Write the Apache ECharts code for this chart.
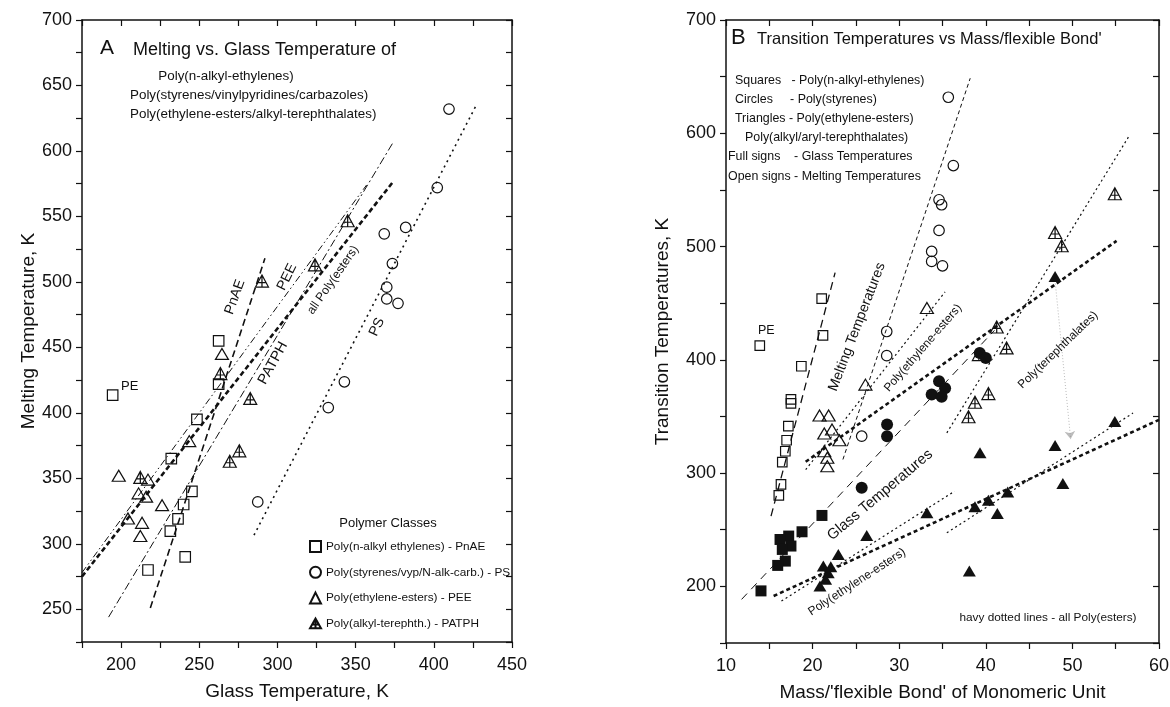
<!DOCTYPE html>
<html>
<head>
<meta charset="utf-8">
<script src="https://cdn.jsdelivr.net/npm/echarts@6/dist/echarts.min.js"></script>
<style>
  html, body { margin: 0; background: #fff; }
  #chart { width: 1170px; height: 707px; }
</style>
</head>
<body>
<div id="chart"></div>
<script>
// ---- panel A: Tm vs Tg (K) ----
const pnaeA  = [[262.4,455],[262.4,422],[194.6,413.5],[248.5,395],[232.1,365],[245.3,340],[240,330],[236.4,319],[231.5,309.6],[241,290],[217.2,280]];
const psA    = [[409.7,632],[402.2,572],[382,541.6],[368.3,536.7],[373.5,514],[369.9,496],[369.9,487],[377.1,483.6],[342.8,423.7],[332.5,404],[287.4,332]];
const peeA   = [[264.5,445],[198.5,352],[217.2,349],[211.2,338.5],[216,336],[226.2,329.5],[204.4,319.3],[213.4,316],[212.3,306],[243.6,378.4]];
const patphA = [[263.5,430],[282.6,411],[275.6,371],[269.5,363],[212.3,350.7],[290.1,500.6],[324,513],[344.9,546.7]];

const fitPnAE_A  = [[218.7,251],[292,518]];
const fitPS_A    = [[285,306.6],[427.6,636]];
const fitAll_A   = [[175,275],[374,576.5]];
const fitPEE_A   = [[175,278],[357,574]];
const fitPATPH_A = [[192,244],[373.7,606]];

// ---- panel B: transition temperature vs mass per flexible bond ----
const sqOpenB   = [[21.05,454],[21.2,421.6],[13.9,412.5],[18.7,394.3],[17.5,365],[17.5,361.5],[17.2,341.4],[17.0,329],[16.85,319.3],[16.5,309.6],[16.35,290],[16.1,280.3]];
const sqFullB   = [[21.08,262.6],[18.78,248.2],[17.24,244.4],[16.24,241.4],[17.5,235.6],[16.5,232.6],[16.85,222.3],[15.97,218.5],[14.04,196]];
const circOpenB = [[35.67,631.8],[36.25,571.5],[34.6,541.3],[34.9,536.9],[34.6,514.2],[33.75,495.7],[33.75,486.9],[35.0,483],[28.56,425],[28.56,403.7],[25.67,332.6]];
const circFullB = [[39.3,406],[40.0,401.6],[34.6,381],[35.3,375],[33.75,369.3],[34.9,367.3],[28.6,342.8],[28.6,332.6],[25.67,287]];
const triOpenB  = [[33.2,445.8],[26.1,378.1],[20.8,350.8],[21.85,350.8],[22.24,338.5],[21.35,335],[23.1,329],[21.35,319.3],[21.7,313.5],[21.7,306]];
const triCrossB = [[54.9,546.6],[48.0,512.4],[48.76,500.7],[41.26,429],[42.4,410.5],[39.2,404.6],[40.3,370.2],[38.75,362.5],[38.0,349.7]];
const triFullB  = [[54.9,345.5],[48.0,324.3],[39.33,318],[48.9,290.8],[42.53,283.2],[40.3,276],[38.75,270.3],[41.33,264.4],[33.2,265],[26.25,245],[22.97,228.2],[38.1,213.5],[48.0,473.6],[21.24,218],[22.1,217.4],[21.8,212],[21.5,206.2],[20.85,200.3]];

const fitPnAE_B   = [[15.2,262],[22.6,477]];
const fitPS_B     = [[23.5,312],[38.2,648.6]];
const fitGlass_B  = [[11.8,188.5],[41.0,426]];
const fitAllTm_B  = [[19.2,310],[55.1,505]];
const fitAllTg_B  = [[15.5,191.5],[60,347]];
const fitPEEm_B   = [[19.2,303],[35.3,460]];
const fitPEEg_B   = [[16.4,187],[36.4,284]];
const fitPATm_B   = [[35.5,335.5],[56.5,597]];
const fitPATg_B   = [[35.5,247.3],[57.0,353]];
const arrowB      = [[48.0,470],[49.8,330]];

const FONT = '"Liberation Sans", Arial, sans-serif';
const INK = '#111';
const crossTri = 'path://M5,0 L10,9 L0,9 Z M5,0 L5,9 M1.8,5.6 L8.2,5.6';

function axisX(grid, pos, min, max, step, every, name) {
  const bottom = pos === 'bottom';
  return {
    type: 'value', gridIndex: grid, position: pos, min: min, max: max, interval: step,
    name: bottom ? name : '', nameLocation: 'middle', nameGap: 40,
    nameTextStyle: { fontFamily: FONT, fontSize: 19, color: INK },
    axisLine: { show: true, onZero: false, lineStyle: { color: INK, width: 1.5 } },
    axisTick: { show: true, inside: !bottom, length: 6, lineStyle: { color: INK, width: 1.2 } },
    axisLabel: { show: bottom, margin: 14, fontFamily: FONT, fontSize: 18, color: INK,
      formatter: v => (v % every === 0 ? String(v) : '') },
    splitLine: { show: false }
  };
}
function axisY(grid, pos, min, max, step, every, name, gap) {
  const left = pos === 'left';
  return {
    type: 'value', gridIndex: grid, position: pos, min: min, max: max, interval: step,
    name: left ? name : '', nameLocation: 'middle', nameGap: gap, nameRotate: 90,
    nameTextStyle: { fontFamily: FONT, fontSize: 19, color: INK },
    axisLine: { show: true, onZero: false, lineStyle: { color: INK, width: 1.5 } },
    axisTick: { show: true, inside: !left, length: 6, lineStyle: { color: INK, width: 1.2 } },
    axisLabel: { show: left, margin: 10, fontFamily: FONT, fontSize: 18, color: INK,
      formatter: v => (v % every === 0 ? String(v) : '') },
    splitLine: { show: false }
  };
}

function pts(name, data, xi, symbol, size, filled) {
  return {
    name: name, type: 'scatter', xAxisIndex: xi, yAxisIndex: xi, data: data,
    symbol: symbol, symbolSize: size,
    itemStyle: { color: filled ? INK : 'rgba(0,0,0,0)', borderColor: INK, borderWidth: filled ? 0 : 1.2, opacity: 1 },
    emphasis: { disabled: true }, z: 4
  };
}
function fit(data, xi, width, dash, color) {
  return {
    type: 'line', xAxisIndex: xi, yAxisIndex: xi, data: data, showSymbol: false, symbol: 'none',
    lineStyle: { color: color || INK, width: width, type: dash },
    emphasis: { disabled: true }, silent: true, z: 3
  };
}
function txt(s, x, y, size, rot, align) {
  return {
    type: 'text', x: x, y: y, rotation: (rot || 0) * Math.PI / 180, silent: true,
    style: { text: s, font: size + 'px ' + FONT, fill: INK, align: align || 'left', verticalAlign: 'middle' }
  };
}

const chart = echarts.init(document.getElementById('chart'));
chart.setOption({
  animation: false,
  backgroundColor: '#fff',
  grid: [
    { left: 82, top: 20, width: 430, height: 622, outerBoundsMode: 'none' },
    { left: 726, top: 20, width: 433, height: 623, outerBoundsMode: 'none' }
  ],
  xAxis: [
    axisX(0, 'bottom', 175, 450, 25, 50, 'Glass Temperature, K'),
    axisX(0, 'top', 175, 450, 25, 50, ''),
    axisX(1, 'bottom', 10, 60, 5, 10, "Mass/'flexible Bond' of Monomeric Unit"),
    axisX(1, 'top', 10, 60, 5, 10, '')
  ],
  yAxis: [
    axisY(0, 'left', 225, 700, 25, 50, 'Melting Temperature, K', 42),
    axisY(0, 'right', 225, 700, 25, 50, '', 0),
    axisY(1, 'left', 150, 700, 50, 100, 'Transition Temperatures, K', 54),
    axisY(1, 'right', 150, 700, 50, 100, '', 0)
  ],
  legend: {
    left: 304, top: 535, orient: 'vertical', itemWidth: 11, itemHeight: 11, itemGap: 12.8,
    selectedMode: false,
    textStyle: { fontFamily: FONT, fontSize: 11.8, color: INK },
    data: ['Poly(n-alkyl ethylenes) - PnAE', 'Poly(styrenes/vyp/N-alk-carb.) - PS',
           'Poly(ethylene-esters) - PEE', 'Poly(alkyl-terephth.) - PATPH']
  },
  series: [
    fit(fitPnAE_A, 0, 1.6, [7, 4]),
    fit(fitPS_A, 0, 1.6, [2, 4]),
    fit(fitAll_A, 0, 2.6, [5, 3]),
    fit(fitPEE_A, 0, 1, [7, 3, 1.5, 3, 1.5, 3]),
    fit(fitPATPH_A, 0, 1, [8, 3, 2, 3]),
    pts('Poly(n-alkyl ethylenes) - PnAE', pnaeA, 0, 'rect', 10.5, false),
    pts('Poly(styrenes/vyp/N-alk-carb.) - PS', psA, 0, 'circle', 10.5, false),
    pts('Poly(ethylene-esters) - PEE', peeA, 0, 'triangle', [13, 11], false),
    pts('Poly(alkyl-terephth.) - PATPH', patphA, 0, crossTri, [13, 12], false),

    fit(fitPnAE_B, 2, 1.3, [8, 5]),
    fit(fitPS_B, 2, 1, [4, 3]),
    fit(fitGlass_B, 2, 1, [8, 6]),
    fit(fitAllTm_B, 2, 2.6, [4, 3]),
    fit(fitAllTg_B, 2, 2.6, [4, 3]),
    fit(fitPEEm_B, 2, 1.2, [2, 3]),
    fit(fitPEEg_B, 2, 1.2, [2, 3]),
    fit(fitPATm_B, 2, 1.2, [2, 3]),
    fit(fitPATg_B, 2, 1.2, [2, 3]),
    {
      type: 'lines', coordinateSystem: 'cartesian2d', xAxisIndex: 2, yAxisIndex: 2,
      data: [{ coords: arrowB }], symbol: ['none', 'arrow'], symbolSize: 8, silent: true,
      lineStyle: { color: '#777', width: 1, type: [1, 2], curveness: 0 }, z: 3
    },
    pts('sqOpenB', sqOpenB, 2, 'rect', 9.5, false),
    pts('sqFullB', sqFullB, 2, 'rect', 11, true),
    pts('circOpenB', circOpenB, 2, 'circle', 10.5, false),
    pts('circFullB', circFullB, 2, 'circle', 12, true),
    pts('triOpenB', triOpenB, 2, 'triangle', [13, 11], false),
    pts('triCrossB', triCrossB, 2, crossTri, [13, 12], false),
    pts('triFullB', triFullB, 2, 'triangle', [13, 11], true)
  ],
  graphic: [
    txt('A', 100, 48, 21),
    txt('Melting vs. Glass Temperature of', 133, 50, 18),
    txt('Poly(n-alkyl-ethylenes)', 226, 76, 13.4, 0, 'center'),
    txt('Poly(styrenes/vinylpyridines/carbazoles)', 130, 95, 13.4),
    txt('Poly(ethylene-esters/alkyl-terephthalates)', 130, 114, 13.4),
    txt('PE', 121, 386, 13),
    txt('PnAE', 235, 297, 14, 70, 'center'),
    txt('PEE', 287, 277, 14, 64, 'center'),
    txt('all Poly(esters)', 333, 280, 12.2, 55, 'center'),
    txt('PATPH', 273, 363, 14.5, 61, 'center'),
    txt('PS', 377, 327, 14, 65, 'center'),
    txt('Polymer Classes', 388, 523, 13, 0, 'center'),

    txt('B', 731, 38, 22),
    txt("Transition Temperatures vs Mass/flexible Bond'", 757, 39, 16.5),
    txt('Squares   - Poly(n-alkyl-ethylenes)', 735, 81, 12.4),
    txt('Circles     - Poly(styrenes)', 735, 100, 12.4),
    txt('Triangles - Poly(ethylene-esters)', 735, 119, 12.4),
    txt('Poly(alkyl/aryl-terephthalates)', 745, 138, 12.4),
    txt('Full signs    - Glass Temperatures', 728, 157, 12.4),
    txt('Open signs - Melting Temperatures', 728, 177, 12.4),
    txt('PE', 758, 331, 12.5),
    txt('Melting Temperatures', 857, 327, 14.2, 69, 'center'),
    txt('Poly(ethylene-esters)', 923, 348, 11.8, 49, 'center'),
    txt('Poly(terephthalates)', 1058, 350, 11.8, 44, 'center'),
    txt('Glass Temperatures', 880, 495, 14.8, 40, 'center'),
    txt('Poly(ethylene-esters)', 857, 582, 12, 33, 'center'),
    txt('havy dotted lines - all Poly(esters)', 1048, 618, 11.8, 0, 'center')
  ]
});
</script>
</body>
</html>
